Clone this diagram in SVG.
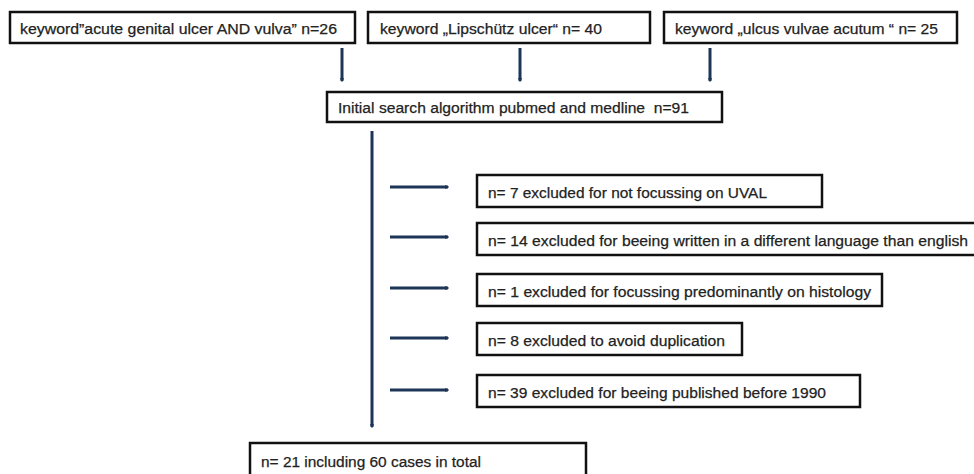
<svg xmlns="http://www.w3.org/2000/svg" width="974" height="474" viewBox="0 0 974 474">
<defs>
<style>
.box{fill:#fff;stroke:#111;stroke-width:2.5}
.t{font-family:"Liberation Sans",Arial,sans-serif;font-size:15.5px;fill:#222;stroke:#222;stroke-width:0.25}
.c{stroke:#1d3557;stroke-width:3;fill:none;marker-end:url(#ah)}
</style>
<marker id="ah" viewBox="0 0 6 6" refX="4" refY="3" markerWidth="1.4" markerHeight="1.4" orient="auto" markerUnits="strokeWidth">
<path d="M0,0 L6,3 L0,6 z" fill="#1d3557"/>
</marker>
</defs>
<rect width="974" height="474" fill="#fff"/>
<g id="connectors">
<line class="c" x1="342" y1="48" x2="342" y2="81"/>
<line class="c" x1="520" y1="48" x2="520" y2="81"/>
<line class="c" x1="710" y1="48" x2="710" y2="81"/>
<line class="c" x1="372" y1="131" x2="372" y2="427"/>
<line class="c" x1="390" y1="187" x2="448" y2="187"/>
<line class="c" x1="390" y1="237" x2="448" y2="237"/>
<line class="c" x1="390" y1="288" x2="448" y2="288"/>
<line class="c" x1="390" y1="338" x2="448" y2="338"/>
<line class="c" x1="390" y1="390" x2="448" y2="390"/>
</g>
<g id="kw1"><rect class="box" x="10" y="12" width="345" height="31"/><text class="t" x="20" y="34" textLength="317" lengthAdjust="spacingAndGlyphs">keyword”acute genital ulcer AND vulva” n=26</text></g>
<g id="kw2"><rect class="box" x="368" y="12" width="282" height="31"/><text class="t" x="380" y="34" textLength="222" lengthAdjust="spacingAndGlyphs">keyword „Lipschütz ulcer“ n= 40</text></g>
<g id="kw3"><rect class="box" x="664" y="12" width="293" height="31"/><text class="t" x="675" y="34" textLength="263" lengthAdjust="spacingAndGlyphs">keyword „ulcus vulvae acutum “ n= 25</text></g>
<g id="initial"><rect class="box" x="327" y="92" width="395" height="30"/><text class="t" x="338" y="113" textLength="351" lengthAdjust="spacingAndGlyphs" xml:space="preserve">Initial search algorithm pubmed and medline  n=91</text></g>
<g id="ex1"><rect class="box" x="477" y="175" width="345" height="32"/><text class="t" x="488" y="198" textLength="279" lengthAdjust="spacingAndGlyphs">n= 7 excluded for not focussing on UVAL</text></g>
<g id="ex2"><rect class="box" x="477" y="223" width="510" height="32"/><text class="t" x="488" y="246" textLength="480" lengthAdjust="spacingAndGlyphs">n= 14 excluded for beeing written in a different language than english</text></g>
<g id="ex3"><rect class="box" x="477" y="274" width="405" height="32"/><text class="t" x="488" y="297" textLength="383" lengthAdjust="spacingAndGlyphs">n= 1 excluded for focussing predominantly on histology</text></g>
<g id="ex4"><rect class="box" x="477" y="323" width="265" height="32"/><text class="t" x="488" y="346" textLength="237" lengthAdjust="spacingAndGlyphs">n= 8 excluded to avoid duplication</text></g>
<g id="ex5"><rect class="box" x="477" y="375" width="383" height="32"/><text class="t" x="488" y="398" textLength="338" lengthAdjust="spacingAndGlyphs">n= 39 excluded for beeing published before 1990</text></g>
<g id="final"><rect class="box" x="250" y="443" width="336" height="45"/><text class="t" x="261" y="467" textLength="220" lengthAdjust="spacingAndGlyphs">n= 21 including 60 cases in total</text></g>
</svg>
